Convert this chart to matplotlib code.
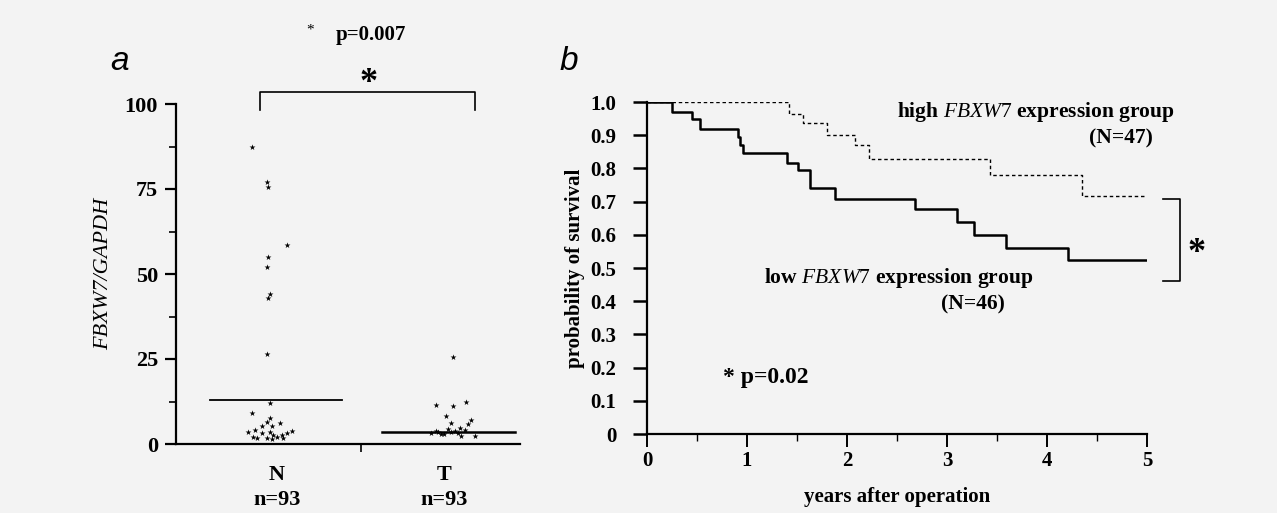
import matplotlib.pyplot as plt
import numpy as np

plt.rcParams['font.family'] = ['Liberation Serif', 'DejaVu Serif']
plt.rcParams['mathtext.fontset'] = 'custom'
plt.rcParams['mathtext.rm'] = 'Liberation Serif'
plt.rcParams['mathtext.it'] = 'Liberation Serif:italic'
plt.rcParams['mathtext.bf'] = 'Liberation Serif:bold'

# ---- panel a: FBXW7/GAPDH in normal (N) and tumour (T) tissue
groups = ['N\nn=93', 'T\nn=93']
n_x = [0.85, 0.94, 0.95, 1.06, 0.95, 0.94, 0.96, 0.95, 0.94,
       0.96, 0.85, 0.96, 0.94, 1.02, 0.91, 0.97, 0.83, 0.87, 0.91,
       0.96, 0.98, 1.03, 1.06, 1.09, 0.86, 0.88, 0.94, 0.97, 1.00, 1.04]
n_y = [87.4, 77.0, 75.7, 58.5, 55.0, 52.0, 44.0, 43.0, 26.6,
       12.0, 9.1, 7.6, 6.5, 6.2, 5.3, 5.3, 3.5, 4.1, 3.2,
       3.5, 2.6, 2.6, 3.2, 3.8, 2.1, 1.8, 1.8, 1.5, 2.1, 1.8]
t_x = [2.05, 1.95, 2.05, 2.13, 2.01, 2.16, 2.14, 2.04, 2.12, 2.18, 2.10,
       1.92, 1.95, 1.98, 2.02, 2.04, 2.06, 2.08, 2.00, 1.96, 2.09]
t_y = [25.5, 11.5, 11.2, 12.4, 8.2, 7.0, 5.9, 6.2, 4.1, 2.4, 2.4,
       3.3, 3.8, 3.0, 4.5, 3.6, 3.9, 3.2, 2.9, 3.5, 4.8]
n_mean = 13.0
t_mean = 3.5

# ---- panel b: Kaplan-Meier survival
low_t = [0, 0.25, 0.45, 0.53, 0.91, 0.93, 0.96, 1.40, 1.51, 1.63, 1.88,
         2.68, 3.10, 3.27, 3.59, 4.21, 5.0]
low_s = [1.0, 0.97, 0.95, 0.92, 0.895, 0.87, 0.846, 0.816, 0.795, 0.741,
         0.708, 0.678, 0.639, 0.599, 0.56, 0.524, 0.524]
high_t = [0, 1.42, 1.56, 1.80, 2.08, 2.22, 3.43, 4.35, 4.98]
high_s = [1.0, 0.964, 0.937, 0.90, 0.87, 0.828, 0.78, 0.717, 0.717]

W, H = 1277, 513
fig = plt.figure(figsize=(W / 100, H / 100), dpi=100)
fig.patch.set_facecolor('#f3f3f3')


def px(x0, y_top, x1, y_bot):
    return [x0 / W, 1 - y_bot / H, (x1 - x0) / W, (y_bot - y_top) / H]


# ================= panel a
ax = fig.add_axes(px(176, 104, 520, 444))
ax.set_facecolor('none')
ax.scatter(n_x, n_y, marker='*', s=20, color='black', linewidths=0)
ax.scatter(t_x, t_y, marker='*', s=20, color='black', linewidths=0)
ax.plot([0.60, 1.39], [n_mean, n_mean], color='black', lw=1.3)
ax.plot([1.625, 2.42], [t_mean, t_mean], color='black', lw=1.8)
ax.set_xlim(0.40, 2.45)
ax.set_ylim(0, 100)
for s in ['top', 'right']:
    ax.spines[s].set_visible(False)
for s in ['left', 'bottom']:
    ax.spines[s].set_linewidth(1.6)
ax.set_yticks([0, 25, 50, 75, 100])
ax.set_yticks(np.arange(12.5, 100, 25), minor=True)
ax.tick_params(axis='y', which='major', length=8, width=1.6, labelsize=16, pad=5)
ax.tick_params(axis='y', which='minor', length=5, width=1.2)
ax.set_yticklabels(['0', '25', '50', '75', '100'], fontweight='bold')
ax.set_xticks([1, 2])
ax.set_xticklabels(groups, fontweight='bold', fontsize=16, linespacing=1.35)
ax.set_xticks([1.5], minor=True)
ax.tick_params(axis='x', which='major', length=0, pad=15)
ax.tick_params(axis='x', which='minor', length=6, width=1.2)
ax.set_ylabel('FBXW7/GAPDH', fontstyle='italic', fontsize=16, labelpad=8)

# significance bracket
ax.plot([0.90, 0.90, 2.18, 2.18], [98.2, 103.5, 103.5, 98.2],
        color='black', lw=1.2, clip_on=False)
ax.text(1.55, 106, '*', fontsize=26, fontweight='bold', ha='center',
        va='center', clip_on=False)
fig.text(310 / W, 1 - 30 / H, '*', fontsize=11, ha='center', va='center')
fig.text(336 / W, 1 - 35 / H, 'p=0.007', fontsize=15, fontweight='bold',
         ha='left', va='center')
fig.text(110 / W, 1 - 62 / H, 'a', fontsize=24, fontstyle='italic',
         family='Liberation Sans', ha='left', va='center')

# ================= panel b
bx = fig.add_axes(px(647, 102, 1147, 434))
bx.set_facecolor('none')
bx.step(low_t, low_s, where='post', color='black', lw=1.8)
bx.step(high_t, high_s, where='post', color='black', lw=1.0,
        linestyle=(0, (2.5, 2)))
bx.set_xlim(0, 5)
bx.set_ylim(0, 1.0)
for s in ['top', 'right']:
    bx.spines[s].set_visible(False)
for s in ['left', 'bottom']:
    bx.spines[s].set_linewidth(1.6)
bx.set_yticks(np.round(np.arange(0, 1.01, 0.1), 1))
bx.set_yticklabels(['0'] + ['%.1f' % v for v in np.arange(0.1, 1.01, 0.1)],
                   fontweight='bold')
bx.set_xticks(range(6))
bx.set_xticklabels([str(i) for i in range(6)], fontweight='bold')
bx.set_xticks(np.arange(0.5, 5, 1), minor=True)
bx.tick_params(axis='y', length=10, width=1.8, labelsize=15, pad=12)
bx.tick_params(axis='x', which='major', length=9, width=1.4, labelsize=15,
               pad=3)
bx.tick_params(axis='x', which='minor', length=5, width=1.0)
bx.set_xlabel('years after operation', fontweight='bold', fontsize=15,
              labelpad=12)
bx.set_ylabel('probability of survival', fontweight='bold', fontsize=15,
              labelpad=4)

bx.text(3.89, 0.97, r'high $\mathit{FBXW7}$ expression group', fontsize=15.5,
        fontweight='bold', ha='center', va='center')
bx.text(4.74, 0.89, '(N=47)', fontsize=15.5, fontweight='bold',
        ha='center', va='center')
bx.text(2.52, 0.47, r'low $\mathit{FBXW7}$ expression group', fontsize=15.5,
        fontweight='bold', ha='center', va='center')
bx.text(3.26, 0.39, '(N=46)', fontsize=15.5, fontweight='bold',
        ha='center', va='center')
bx.text(0.76, 0.169, '* p=0.02', fontsize=17, fontweight='bold',
        ha='left', va='center')

bx.plot([5.16, 5.33, 5.33, 5.16], [0.708, 0.708, 0.461, 0.461],
        color='black', lw=1.2, clip_on=False)
bx.text(5.50, 0.545, '*', fontsize=26, fontweight='bold', ha='center',
        va='center', clip_on=False)
fig.text(560 / W, 1 - 62 / H, 'b', fontsize=24, fontstyle='italic',
         family='Liberation Sans', ha='left', va='center')

fig.savefig('out.png', dpi=100, facecolor=fig.get_facecolor())
